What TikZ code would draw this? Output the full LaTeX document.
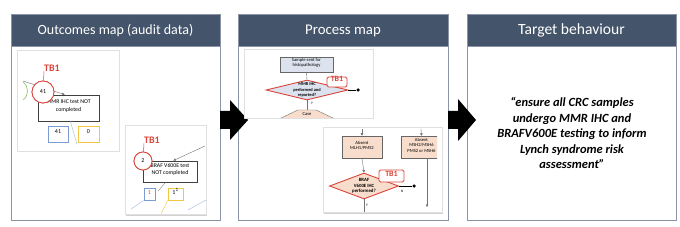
\documentclass[tikz,border=0pt]{standalone}
\usepackage{fontspec}
\setmainfont{Carlito}
\usetikzlibrary{shadows,shapes.geometric,arrows.meta,fit,calc}
\definecolor{hdr}{HTML}{44546A}
\definecolor{pborder}{HTML}{8A94A6}
\definecolor{tbred}{HTML}{D9453B}
\definecolor{lblue}{HTML}{DCE3EF}
\definecolor{peach}{HTML}{F9DDCC}
\definecolor{bblue}{HTML}{7B9BD3}
\definecolor{byel}{HTML}{F2C744}
\definecolor{lgreen}{HTML}{8CC56A}
\begin{document}
\begin{tikzpicture}[x=1pt,y=-1pt,
  panel/.style={draw=pborder, line width=0.9pt, fill=white, inner sep=0},
  header/.style={fill=hdr, draw=pborder, line width=0.9pt, inner sep=0},
  htext/.style={text=white, inner sep=0, anchor=center},
  card/.style={draw=black!12, fill=white, inner sep=0, drop shadow={shadow xshift=1.2pt, shadow yshift=-1.5pt, opacity=0.35}},
  tbtext/.style={text=tbred, font=\fontsize{10}{12}\selectfont\bfseries, inner sep=0},
  tbcirc/.style={circle, draw=tbred, line width=0.8pt, fill=white, inner sep=0, minimum size=#1, font=\fontsize{6}{7}\selectfont},
  obox/.style={draw=black!75, line width=0.8pt, fill=white, inner sep=0, align=center, font=\fontsize{5.8}{7.5}\selectfont},
  bluebox/.style={draw=bblue, line width=0.8pt, fill=white, inner sep=0, font=\fontsize{6}{7}\selectfont},
  yelbox/.style={draw=byel, line width=0.8pt, fill=white, inner sep=0, font=\fontsize{6}{7}\selectfont},
  gline/.style={draw=black!55, line width=0.4pt},
  pbox/.style={draw=black!60, line width=0.5pt, inner sep=0, align=center, font=\fontsize{4.6}{5.6}\selectfont},
  dia/.style={diamond, draw=tbred, line width=0.9pt, inner sep=0},
  diatext/.style={font=\fontsize{4.4}{5.2}\selectfont\bfseries, align=center, inner sep=0},
  tbbox/.style={draw=tbred, line width=0.8pt, rounded corners=1.5pt, fill=white, text=tbred, inner sep=0, font=\fontsize{8}{9}\selectfont\bfseries},
  small/.style={font=\fontsize{3.6}{4}\selectfont, inner sep=0},
  dot/.style={circle, fill=black, inner sep=0, minimum size=3.5pt},
  tip/.style={-{Triangle[length=2.5pt,width=2.5pt]}},
  ]
\useasboundingbox (0,0) rectangle (680,227);
\fill[white] (0,0) rectangle (680,227);

% ---------- panels ----------
\node[panel, fit={(11,14) (220,220)}] (p1) {};
\node[header, fit={(11,14) (220,46)}] (h1) {};
\node[htext, font=\fontsize{14}{17}\selectfont] (h1t) at (115.5,30.5) {Outcomes map (audit data)};
\node[panel, fit={(238,14) (448,220)}] (p2) {};
\node[header, fit={(238,14) (448,46)}] (h2) {};
\node[htext, font=\fontsize{14.8}{17}\selectfont] (h2t) at (343,30.5) {Process map};
\node[panel, fit={(467,14) (676,220)}] (p3) {};
\node[header, fit={(467,14) (676,46)}] (h3) {};
\node[htext, font=\fontsize{15.6}{18}\selectfont] (h3t) at (571.5,30.5) {Target behaviour};

% ---------- big arrows ----------
\fill[black] (220,111) -- (230,111) -- (230,100) -- (248,120) -- (230,140) -- (230,129) -- (220,129) -- cycle;
\fill[black] (448,111) -- (458,111) -- (458,99) -- (476,120) -- (458,141) -- (458,129) -- (448,129) -- cycle;

% ---------- outcomes card 1 ----------
\node[card, fit={(17,50) (119,151)}] (oc1) {};
\node[obox, fit={(38,95) (99,121)}] (b1) {MMR IHC test NOT\\completed};
\coordinate (g1) at (23,81);
\draw[gline, tip] (g1) -- ($(b1.north west)!0.44!(b1.north east)$);
\draw[lgreen, line width=0.6pt] (23,82) .. controls (29,86) and (29,96) .. (23,100);
\node[tbtext] (tb1) at (52,68) {TB1};
\node[tbcirc=22pt] (c1) at (43,92) {};
\draw[tbred, line width=0.5pt] (tb1.south west) -- (c1);
\node[tbcirc=22pt] (c1b) at (43,92) {41};
\coordinate (bl1) at (77,144);
\draw[bblue!70, line width=0.4pt] ($(b1.south west)!0.53!(b1.south east)$) -- (bl1);
\node[bluebox, fit={(48,126) (68,142)}] (n1) {41};
\node[yelbox, fit={(78,126) (99,142)}] (n2) {0};

% ---------- outcomes card 2 ----------
\node[card, fit={(125,125) (206,214)}] (oc2) {};
\node[obox, fit={(143,161) (197,182)}] (b2) {BRAF V600E test\\NOT completed};
\coordinate (g2) at (205,146);
\draw[gline, tip] (g2) -- ($(b2.north west)!0.56!(b2.north east)$);
\node[bluebox, fit={(144,188) (155,200)}, text=tbred] (n3) {1};
\node[yelbox, fit={(168,188) (183,200)}] (n4) {1\textsuperscript{1}};
\coordinate (bl2) at (131,209);
\draw[bblue!70, line width=0.4pt] (bl2) -- (n3.south west);
\coordinate (yl2) at (161,214);
\draw[byel, line width=0.4pt] (yl2) -- (n4.south west);
\coordinate (gl2) at (158,191);
\draw[gline, line width=0.3pt] ($(b2.south west)!0.42!(b2.south east)$) -- (gl2);
\coordinate (bl3a) at (188,210);
\coordinate (bl3b) at (206,200);
\draw[bblue!70, line width=0.4pt] (bl3a) -- (bl3b);
\node[tbtext] (tb2) at (152,140) {TB1};
\node[tbcirc=18pt] (c2) at (143,161) {};
\draw[tbred, line width=0.5pt] (tb2.south west) -- (c2);
\node[tbcirc=18pt] (c2b) at (143,161) {2};

% ---------- process card A ----------
\node[card, fit={(244,49) (373,118)}] (pc1) {};
\begin{scope}
\clip (244,49) rectangle (373,118);
\node[pbox, fill=lblue, fit={(280,57) (333,72)}] (s1) {Sample sent for\\histopathology};
\node[dia, fill=lblue, minimum width=82pt, minimum height=20pt] (d1) at (307,90) {};
\node[diatext] (d1t) at (d1) {MMR IHC\\performed and\\reported?};
\draw[gline] (s1.south) -- (d1.north);
\node[dot] (k1) at (358,90) {};
\draw[black, line width=0.5pt] (d1.east) -- (k1);
\node[tbbox, fit={(327,77) (347,87)}] (t1) {TB1};
\node[small] (y1) at (312,103) {Y};
\coordinate (case) at (307,110);
\draw[gline] (d1.south) -- (case);
\filldraw[fill=peach, draw=black!55, line width=0.4pt] (279,119) -- (298,110) -- (316,110) -- (335,119);
\node[small, font=\fontsize{4.6}{5}\selectfont] (cs) at (307,114.5) {Case};
\end{scope}

% ---------- process card B ----------
\node[card, fit={(323,127) (442,212)}] (pc2) {};
\begin{scope}
\clip (323,127) rectangle (437,212);
\node[pbox, fill=peach, fit={(342,136) (382,158)}] (m1) {Absent\\MLH1/PMS2};
\node[pbox, fill=peach, fit={(401,136) (442,158)}] (m2) {Absent\\MSH2/MSH6\\PMS2 or MSH6};
\coordinate (m1t) at (362,129);
\draw[gline, tip] (m1t) -- (m1.north);
\coordinate (m2t) at (421,129);
\draw[gline, tip] (m2t) -- (m2.north);
\node[dia, fill=peach, minimum width=69pt, minimum height=26pt] (d2) at (364,186) {};
\node[diatext, font=\fontsize{4.8}{5.6}\selectfont\bfseries] (d2t) at (d2) {BRAF\\V600E IHC\\performed?};
\draw[gline, tip] (m1.south) -- (d2.north);
\node[dot] (k2) at (414,186) {};
\draw[black, line width=0.5pt] (d2.east) -- (k2);
\node[tbbox, fit={(379,170) (404,182)}] (t2) {TB1};
\node[small] (n5) at (402,191) {N};
\coordinate (d2b) at (364,212);
\draw[gline] (d2.south) -- (d2b);
\node[small] (y2) at (367,205) {Y};
\coordinate (m2b) at (427,158);
\coordinate (m2e) at (427,207);
\draw[gline, tip] (m2b) -- (m2e);
\end{scope}

% ---------- target behaviour ----------
\node[font=\fontsize{12.5}{15.5}\selectfont\bfseries\itshape, align=center] (q) at (572,133)
 {“ensure all CRC samples\\undergo MMR IHC and\\BRAFV600E testing to inform\\Lynch syndrome risk\\assessment”};
\end{tikzpicture}
\end{document}
